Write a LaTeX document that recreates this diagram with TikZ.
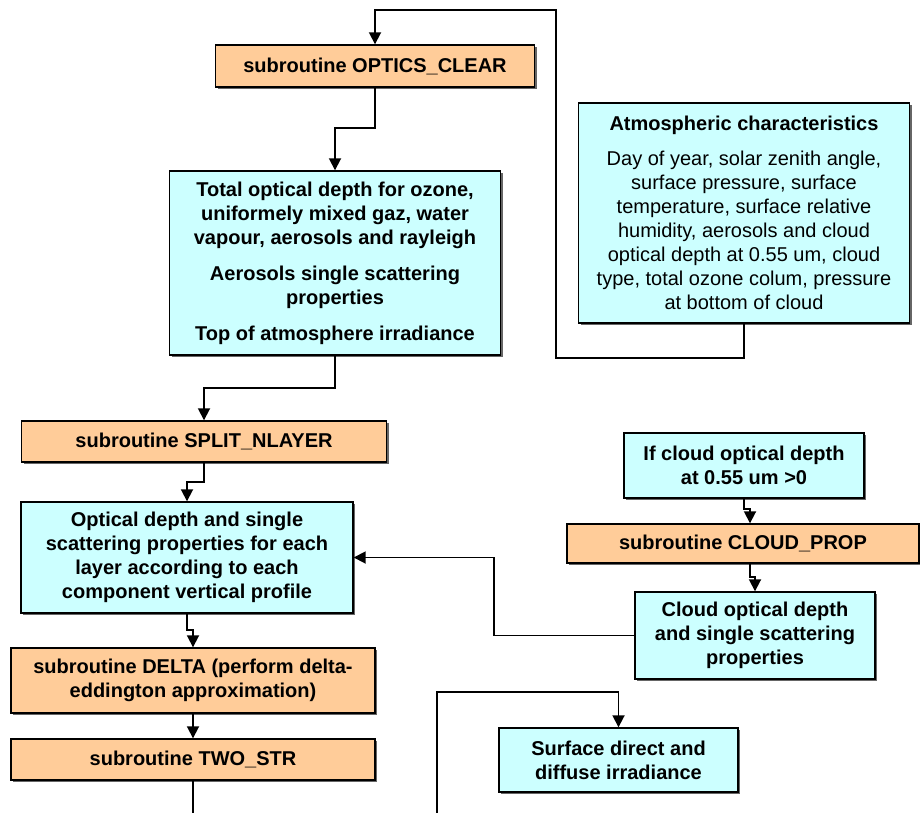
\documentclass[tikz,border=0pt]{standalone}
\usepackage{fontspec}
\setmainfont{Liberation Sans}
\usetikzlibrary{arrows.meta,shadows}
\definecolor{boxorange}{RGB}{255,204,153}
\definecolor{boxcyan}{RGB}{204,255,255}
\begin{document}
\begin{tikzpicture}[x=1pt,y=-1pt,
  box/.style={draw=black, line width=1.4pt, align=center, inner sep=0pt,
    font=\fontsize{20}{24}\selectfont\bfseries,
    drop shadow={shadow xshift=2pt, shadow yshift=-2pt, fill=black!60, opacity=1}},
  subbox/.style={box, fill=boxorange},
  infobox/.style={box, fill=boxcyan},
  conn/.style={draw=black, line width=1.8pt},
  arr/.style={conn, -{Triangle[width=12pt,length=12pt]}}]
\useasboundingbox (0,0) rectangle (920,813);

% nodes
\node[subbox, minimum width=319pt, minimum height=42pt] (opt) at (375,66) {subroutine OPTICS\_CLEAR};
\node[infobox, minimum width=331pt, minimum height=184pt] (tot) at (335,263)
  {Total optical depth for ozone,\\ uniformely mixed gaz, water\\ vapour, aerosols and rayleigh\\[12pt]
   Aerosols single scattering\\ properties\\[12pt] Top of atmosphere irradiance};
\node[infobox, minimum width=331pt, minimum height=220pt] (atm) at (744,213)
  {Atmospheric characteristics\\[11pt]
   \mdseries Day of year, solar zenith angle,\\ \mdseries surface pressure, surface\\
   \mdseries temperature, surface relative\\ \mdseries humidity, aerosols and cloud\\
   \mdseries optical depth at 0.55 um, cloud\\ \mdseries type, total ozone colum, pressure\\
   \mdseries at bottom of cloud};
\node[subbox, minimum width=365pt, minimum height=41pt] (split) at (204,441.5) {subroutine SPLIT\_NLAYER};
\node[infobox, minimum width=332pt, minimum height=111pt] (odep) at (187,557.5)
  {Optical depth and single\\ scattering properties for each\\ layer according to each\\ component vertical profile};
\node[subbox, minimum width=364pt, minimum height=65pt] (delta) at (193,680.5)
  {subroutine DELTA (perform delta-\\ eddington approximation)};
\node[subbox, minimum width=364pt, minimum height=41pt] (two) at (193,759.5) {subroutine TWO\_STR};
\node[infobox, minimum width=239pt, minimum height=64pt] (surf) at (618.5,760)
  {Surface direct and\\ diffuse irradiance};
\node[infobox, minimum width=240pt, minimum height=65pt] (ifc) at (744,465.5)
  {If cloud optical depth\\ at 0.55 um >0};
\node[subbox, minimum width=352pt, minimum height=39pt] (cprop) at (743,543.5) {subroutine CLOUD\_PROP};
\node[infobox, minimum width=240pt, minimum height=87pt] (cod) at (755,635.5)
  {Cloud optical depth\\ and single scattering\\ properties};

% helper coordinates
\coordinate (k1) at (556,358);
\coordinate (k2) at (556,10);
\coordinate (k3) at (375,128);
\coordinate (k4) at (335,388);
\coordinate (k5) at (204,482);
\coordinate (k6) at (187,630);
\coordinate (bot1) at (193,813);
\coordinate (bot2) at (437,813);
\coordinate (k7) at (437,692);
\coordinate (k8) at (750,509);
\coordinate (k9) at (755,577);
\coordinate (k10) at (494,557.5);

% connectors
\draw[arr] (atm.south) |- (k1) -- (k2) -| (opt.north);
\draw[arr] (opt.south) -- (k3) -| (tot.north);
\draw[arr] (tot.south) -- (k4) -| (split.north);
\draw[arr] (split.south) -- (k5) -| (odep.north);
\draw[arr] (odep.south) -- (k6) -| (delta.north);
\draw[arr] (delta.south) -- (two.north);
\draw[conn] (two.south) -- (bot1);
\draw[arr] (bot2) -- (k7) -| (surf.north);
\draw[arr] (ifc.south) |- (k8) -- (k8 |- cprop.north);
\draw[arr] (cprop.south -| k8) |- (k9) -- (cod.north);
\draw[arr] (cod.west) -| (k10) -- (odep.east);
\end{tikzpicture}
\end{document}
